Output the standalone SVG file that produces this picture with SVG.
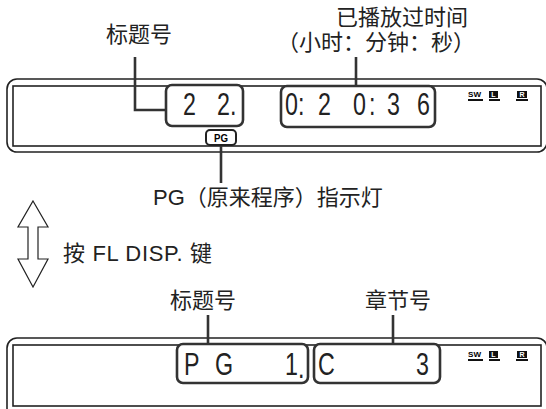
<svg xmlns="http://www.w3.org/2000/svg" width="546" height="409" viewBox="0 0 546 409">
<style>
.t{font-family:"Liberation Sans","Noto Sans CJK SC",sans-serif;font-size:22px;fill:#222}
.cj{font-family:"Noto Sans CJK SC",sans-serif;font-size:22px;fill:#222}
.d{font-family:"Liberation Sans",sans-serif;font-size:31px;fill:#222}
.frame{fill:none;stroke:#222;stroke-width:1.6}
.box{fill:#fff;stroke:#333;stroke-width:2.6}
.ln{stroke:#333;stroke-width:2.6;fill:none}
.ic{font-family:"Liberation Sans",sans-serif;font-weight:bold;font-size:8px}
.arrow{fill:#fff;stroke:#222;stroke-width:1.2}
</style>
<g id="panel-top">
<rect class="frame" x="7" y="79" width="540" height="73" rx="10"/>
<rect class="frame" x="13" y="86" width="528" height="60"/>
</g>
<g id="panel-bottom">
<rect class="frame" x="7" y="338" width="540" height="80" rx="10"/>
<rect class="frame" x="13" y="345" width="528" height="61"/>
</g>
<g id="connectors">
<polyline class="ln" points="135,57 135,110 166,110"/>
<line class="ln" x1="356" y1="57" x2="356" y2="86"/>
<line class="ln" x1="221" y1="145" x2="221" y2="183"/>
<line class="ln" x1="208" y1="315" x2="208" y2="344"/>
<line class="ln" x1="393" y1="315" x2="393" y2="344"/>
</g>
<g id="title-box-top">
<rect class="box" x="166" y="85" width="77" height="41" rx="6"/>
<text class="d" transform="scale(0.75 1)" x="244" y="115">2</text>
<text class="d" transform="scale(0.75 1)" x="289.33" y="115">2.</text>
</g>
<g id="time-box">
<rect class="box" x="281" y="86" width="154" height="41" rx="6"/>
<text class="d" transform="scale(0.75 1)" x="380" y="115">0:</text>
<text class="d" transform="scale(0.75 1)" x="424" y="115">2</text>
<text class="d" transform="scale(0.75 1)" x="470.67 492" y="115">0:</text>
<text class="d" transform="scale(0.75 1)" x="516" y="115">3</text>
<text class="d" transform="scale(0.75 1)" x="556" y="115">6</text>
</g>
<g id="pg-indicator">
<rect x="206" y="130" width="30" height="15" rx="4" fill="#fff" stroke="#222" stroke-width="2"/>
<text class="ic" x="221" y="141.5" text-anchor="middle" textLength="14" lengthAdjust="spacingAndGlyphs" style="font-size:10px">PG</text>
</g>
<g id="icons-top">
<text class="ic" x="468" y="97" textLength="13" lengthAdjust="spacingAndGlyphs">SW</text>
<rect x="468" y="99" width="15" height="2" fill="#111"/>
<rect x="489" y="91" width="9" height="7" fill="#111"/>
<text class="ic" x="493.5" y="97" text-anchor="middle" fill="#fff" style="font-size:7px">L</text>
<rect x="489" y="99" width="11" height="2" fill="#111"/>
<rect x="517" y="91" width="10" height="7" fill="#111"/>
<text class="ic" x="522" y="97" text-anchor="middle" fill="#fff" style="font-size:7px">R</text>
<rect x="516" y="99" width="12" height="2" fill="#111"/>
</g>
<g id="title-box-bottom">
<rect class="box" x="177" y="344" width="131" height="39" rx="6"/>
<text class="d" transform="scale(0.75 1)" x="245.33" y="375">P</text>
<text class="d" transform="scale(0.75 1)" x="286.67" y="375">G</text>
<text class="d" transform="scale(0.75 1)" x="380" y="375 378">1.</text>
</g>
<g id="chapter-box">
<rect class="box" x="314" y="344" width="126" height="39" rx="6"/>
<text class="d" transform="scale(0.75 1)" x="424" y="375">C</text>
<text class="d" transform="scale(0.75 1)" x="554.67" y="375">3</text>
</g>
<g id="icons-bottom">
<text class="ic" x="468" y="357" textLength="13" lengthAdjust="spacingAndGlyphs">SW</text>
<rect x="468" y="359" width="15" height="2" fill="#111"/>
<rect x="489" y="351" width="9" height="7" fill="#111"/>
<text class="ic" x="493.5" y="357" text-anchor="middle" fill="#fff" style="font-size:7px">L</text>
<rect x="489" y="359" width="11" height="2" fill="#111"/>
<rect x="517" y="351" width="10" height="7" fill="#111"/>
<text class="ic" x="522" y="357" text-anchor="middle" fill="#fff" style="font-size:7px">R</text>
<rect x="516" y="359" width="12" height="2" fill="#111"/>
</g>
<g id="label-title-top"><text class="cj" x="139" y="42" text-anchor="middle">标题号</text></g>
<g id="label-elapsed">
<text class="t" x="402" y="25" text-anchor="middle">已播放过时间</text>
<text class="t" x="376" y="50" text-anchor="middle">（小时：分钟：秒）</text>
</g>
<g id="label-pg"><text class="t" x="153" y="205">PG（原来程序）指示灯</text></g>
<g id="toggle">
<polygon class="arrow" points="33,201 48,227 38,227 38,259 48,259 33,287 18,259 28,259 28,227 18,227"/>
<text class="t" x="63" y="261" textLength="149">按 FL DISP. 键</text>
</g>
<g id="label-title-bottom"><text class="cj" x="203" y="308" text-anchor="middle">标题号</text></g>
<g id="label-chapter"><text class="cj" x="398" y="308" text-anchor="middle">章节号</text></g>
</svg>
